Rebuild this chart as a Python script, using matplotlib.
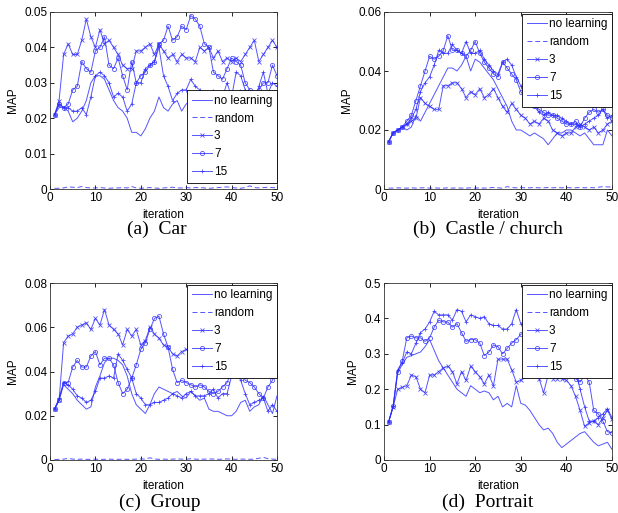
import numpy as np
import matplotlib
matplotlib.use('Agg')
from matplotlib import pyplot as plt
from matplotlib.ticker import FuncFormatter

plt.rcParams['font.family'] = ['Liberation Sans', 'DejaVu Sans']

iterations = np.arange(1, 51)
labels = ['no learning', 'random', '3', '7', '15']

# (a) Car
car_none = [0.021, 0.023, 0.023, 0.022, 0.019, 0.020, 0.022, 0.025, 0.030, 0.032,
            0.032, 0.031, 0.028, 0.025, 0.023, 0.022, 0.020, 0.016, 0.016, 0.015,
            0.017, 0.020, 0.022, 0.026, 0.023, 0.022, 0.024, 0.025, 0.022, 0.024,
            0.025, 0.026, 0.025, 0.024, 0.026, 0.028, 0.026, 0.025, 0.024, 0.026,
            0.027, 0.028, 0.026, 0.025, 0.024, 0.023, 0.025, 0.024, 0.023, 0.022]
car_random = [0.0002, 0.0002, 0.0003, 0.0006, 0.0005, 0.0004, 0.0007, 0.0004, 0.0003, 0.0003,
              0.0004, 0.0003, 0.0002, 0.0003, 0.0003, 0.0004, 0.0003, 0.0007, 0.0003, 0.0002,
              0.0003, 0.0004, 0.0003, 0.0002, 0.0003, 0.0004, 0.0005, 0.0003, 0.0003, 0.0004,
              0.0003, 0.0004, 0.0004, 0.0003, 0.0002, 0.0003, 0.0004, 0.0005, 0.0006, 0.0004,
              0.0003, 0.0002, 0.0004, 0.0009, 0.0004, 0.0003, 0.0004, 0.0005, 0.0004, 0.0003]
car_3 = [0.021, 0.025, 0.038, 0.041, 0.038, 0.038, 0.042, 0.048, 0.043, 0.040,
         0.045, 0.041, 0.042, 0.040, 0.038, 0.035, 0.034, 0.034, 0.039, 0.039,
         0.040, 0.041, 0.038, 0.041, 0.039, 0.037, 0.038, 0.036, 0.038, 0.037,
         0.037, 0.036, 0.040, 0.039, 0.040, 0.037, 0.039, 0.036, 0.037, 0.036,
         0.037, 0.036, 0.038, 0.040, 0.042, 0.036, 0.038, 0.040, 0.042, 0.040]
car_7 = [0.021, 0.024, 0.023, 0.024, 0.028, 0.029, 0.036, 0.034, 0.033, 0.039,
         0.040, 0.043, 0.035, 0.034, 0.037, 0.032, 0.028, 0.036, 0.030, 0.032,
         0.033, 0.035, 0.036, 0.041, 0.042, 0.046, 0.042, 0.043, 0.046, 0.045,
         0.049, 0.048, 0.046, 0.041, 0.040, 0.033, 0.032, 0.031, 0.034, 0.037,
         0.036, 0.035, 0.030, 0.028, 0.027, 0.028, 0.030, 0.030, 0.035, 0.032]
car_15 = [0.021, 0.024, 0.023, 0.023, 0.022, 0.022, 0.023, 0.021, 0.026, 0.032,
          0.033, 0.032, 0.030, 0.026, 0.027, 0.026, 0.022, 0.024, 0.030, 0.030,
          0.034, 0.035, 0.036, 0.040, 0.032, 0.029, 0.025, 0.027, 0.028, 0.028,
          0.031, 0.029, 0.028, 0.027, 0.026, 0.026, 0.025, 0.026, 0.030, 0.026,
          0.033, 0.032, 0.028, 0.025, 0.024, 0.029, 0.033, 0.027, 0.030, 0.029]

# (b) Castle / church
castle_none = [0.016, 0.019, 0.020, 0.021, 0.020, 0.021, 0.025, 0.023, 0.026, 0.029,
               0.032, 0.035, 0.038, 0.041, 0.041, 0.040, 0.042, 0.045, 0.040, 0.044,
               0.043, 0.041, 0.039, 0.037, 0.034, 0.031, 0.028, 0.023, 0.020, 0.020,
               0.019, 0.018, 0.019, 0.018, 0.017, 0.015, 0.017, 0.019, 0.019, 0.020,
               0.020, 0.019, 0.018, 0.019, 0.017, 0.015, 0.015, 0.015, 0.020, 0.018]
castle_random = [0.0003, 0.0003, 0.0004, 0.0003, 0.0003, 0.0004, 0.0003, 0.0004, 0.0004, 0.0003,
                 0.0004, 0.0003, 0.0003, 0.0004, 0.0003, 0.0004, 0.0003, 0.0003, 0.0004, 0.0003,
                 0.0004, 0.0003, 0.0004, 0.0005, 0.0004, 0.0003, 0.0008, 0.0005, 0.0004, 0.0005,
                 0.0004, 0.0004, 0.0005, 0.0004, 0.0004, 0.0005, 0.0004, 0.0005, 0.0004, 0.0005,
                 0.0004, 0.0004, 0.0005, 0.0004, 0.0005, 0.0004, 0.0006, 0.0008, 0.0007, 0.0007]
castle_3 = [0.016, 0.019, 0.020, 0.021, 0.022, 0.023, 0.024, 0.031, 0.029, 0.028,
            0.027, 0.027, 0.035, 0.035, 0.036, 0.036, 0.034, 0.031, 0.033, 0.032,
            0.034, 0.031, 0.032, 0.034, 0.031, 0.028, 0.026, 0.029, 0.027, 0.025,
            0.024, 0.022, 0.023, 0.022, 0.024, 0.023, 0.020, 0.019, 0.018, 0.019,
            0.019, 0.021, 0.022, 0.021, 0.020, 0.021, 0.019, 0.020, 0.022, 0.023]
castle_7 = [0.016, 0.019, 0.020, 0.021, 0.023, 0.025, 0.030, 0.035, 0.040, 0.045,
            0.044, 0.045, 0.047, 0.052, 0.047, 0.047, 0.046, 0.045, 0.047, 0.050,
            0.046, 0.043, 0.041, 0.039, 0.038, 0.043, 0.041, 0.039, 0.037, 0.033,
            0.031, 0.030, 0.028, 0.027, 0.026, 0.025, 0.025, 0.024, 0.023, 0.022,
            0.022, 0.023, 0.021, 0.024, 0.026, 0.027, 0.026, 0.027, 0.025, 0.024]
castle_15 = [0.016, 0.019, 0.020, 0.021, 0.022, 0.024, 0.027, 0.033, 0.036, 0.038,
             0.042, 0.047, 0.046, 0.046, 0.049, 0.047, 0.046, 0.050, 0.046, 0.046,
             0.047, 0.044, 0.042, 0.040, 0.039, 0.043, 0.044, 0.042, 0.038, 0.035,
             0.031, 0.029, 0.028, 0.026, 0.025, 0.026, 0.025, 0.025, 0.024, 0.023,
             0.022, 0.022, 0.021, 0.022, 0.023, 0.024, 0.025, 0.027, 0.024, 0.025]

# (c) Group
group_none = [0.023, 0.027, 0.034, 0.032, 0.030, 0.027, 0.025, 0.023, 0.024, 0.033,
              0.038, 0.044, 0.046, 0.046, 0.045, 0.043, 0.038, 0.030, 0.025, 0.023,
              0.021, 0.025, 0.030, 0.033, 0.032, 0.031, 0.030, 0.031, 0.029, 0.028,
              0.031, 0.029, 0.027, 0.028, 0.023, 0.022, 0.022, 0.021, 0.020, 0.020,
              0.022, 0.026, 0.027, 0.022, 0.024, 0.025, 0.029, 0.025, 0.021, 0.029]
group_random = [0.0002, 0.0003, 0.0004, 0.0007, 0.0004, 0.0003, 0.0004, 0.0003, 0.0003, 0.0004,
                0.0003, 0.0003, 0.0004, 0.0003, 0.0003, 0.0004, 0.0003, 0.0003, 0.0004, 0.0005,
                0.0004, 0.0010, 0.0005, 0.0003, 0.0004, 0.0003, 0.0004, 0.0005, 0.0004, 0.0003,
                0.0006, 0.0004, 0.0003, 0.0004, 0.0005, 0.0004, 0.0003, 0.0004, 0.0005, 0.0004,
                0.0003, 0.0004, 0.0004, 0.0003, 0.0004, 0.0008, 0.0012, 0.0006, 0.0004, 0.0003]
group_3 = [0.023, 0.027, 0.053, 0.056, 0.057, 0.060, 0.061, 0.062, 0.059, 0.064,
           0.061, 0.068, 0.061, 0.059, 0.057, 0.052, 0.059, 0.056, 0.059, 0.052,
           0.054, 0.060, 0.057, 0.055, 0.052, 0.051, 0.048, 0.047, 0.049, 0.050,
           0.048, 0.050, 0.047, 0.048, 0.050, 0.049, 0.048, 0.046, 0.048, 0.045,
           0.047, 0.049, 0.046, 0.044, 0.045, 0.047, 0.048, 0.046, 0.047, 0.045]
group_7 = [0.023, 0.027, 0.035, 0.035, 0.042, 0.045, 0.042, 0.042, 0.047, 0.049,
           0.043, 0.046, 0.046, 0.043, 0.035, 0.030, 0.032, 0.037, 0.043, 0.050,
           0.053, 0.059, 0.064, 0.065, 0.057, 0.051, 0.041, 0.035, 0.036, 0.035,
           0.034, 0.033, 0.034, 0.033, 0.031, 0.030, 0.031, 0.033, 0.035, 0.040,
           0.044, 0.041, 0.036, 0.035, 0.033, 0.030, 0.028, 0.033, 0.036, 0.044]
group_15 = [0.023, 0.028, 0.035, 0.034, 0.032, 0.029, 0.028, 0.026, 0.027, 0.031,
            0.037, 0.037, 0.038, 0.037, 0.048, 0.045, 0.041, 0.037, 0.030, 0.028,
            0.025, 0.025, 0.026, 0.026, 0.027, 0.028, 0.030, 0.029, 0.028, 0.030,
            0.031, 0.029, 0.029, 0.029, 0.030, 0.032, 0.028, 0.030, 0.030, 0.038,
            0.040, 0.036, 0.030, 0.025, 0.026, 0.027, 0.028, 0.022, 0.025, 0.022]

# (d) Portrait
portrait_none = [0.107, 0.150, 0.245, 0.270, 0.290, 0.295, 0.300, 0.305, 0.320, 0.340,
                 0.310, 0.280, 0.260, 0.240, 0.220, 0.200, 0.190, 0.180, 0.210, 0.200,
                 0.190, 0.195, 0.190, 0.170, 0.180, 0.150, 0.160, 0.150, 0.210, 0.160,
                 0.155, 0.140, 0.120, 0.100, 0.085, 0.090, 0.075, 0.050, 0.035, 0.045,
                 0.055, 0.065, 0.075, 0.080, 0.065, 0.050, 0.040, 0.045, 0.050, 0.030]
portrait_random = [0.001] * 50
portrait_3 = [0.107, 0.150, 0.200, 0.205, 0.210, 0.240, 0.235, 0.200, 0.190, 0.240,
              0.240, 0.250, 0.260, 0.265, 0.250, 0.215, 0.250, 0.225, 0.265, 0.250,
              0.235, 0.215, 0.240, 0.210, 0.285, 0.285, 0.285, 0.255, 0.220, 0.225,
              0.240, 0.250, 0.240, 0.230, 0.190, 0.240, 0.230, 0.230, 0.230, 0.225,
              0.210, 0.180, 0.140, 0.095, 0.105, 0.110, 0.100, 0.120, 0.140, 0.115]
portrait_7 = [0.107, 0.152, 0.250, 0.280, 0.345, 0.350, 0.345, 0.345, 0.335, 0.345,
              0.375, 0.395, 0.390, 0.390, 0.375, 0.385, 0.360, 0.335, 0.340, 0.340,
              0.330, 0.295, 0.305, 0.325, 0.320, 0.300, 0.315, 0.330, 0.340, 0.355,
              0.360, 0.350, 0.340, 0.330, 0.320, 0.300, 0.290, 0.280, 0.270, 0.260,
              0.250, 0.230, 0.220, 0.240, 0.220, 0.140, 0.130, 0.110, 0.080, 0.077]
portrait_15 = [0.107, 0.152, 0.255, 0.275, 0.305, 0.300, 0.330, 0.360, 0.370, 0.390,
               0.420, 0.410, 0.410, 0.410, 0.395, 0.425, 0.420, 0.390, 0.410, 0.405,
               0.400, 0.405, 0.385, 0.380, 0.380, 0.370, 0.370, 0.385, 0.425, 0.385,
               0.380, 0.370, 0.360, 0.350, 0.360, 0.340, 0.330, 0.320, 0.300, 0.280,
               0.260, 0.250, 0.200, 0.150, 0.110, 0.110, 0.120, 0.130, 0.145, 0.120]

panels = [
  ('(a)  Car', [car_none, car_random, car_3, car_7, car_15], 0.05, 0.01, 'lower'),
  ('(b)  Castle / church', [castle_none, castle_random, castle_3, castle_7, castle_15], 0.06, 0.02, 'upper'),
  ('(c)  Group', [group_none, group_random, group_3, group_7, group_15], 0.08, 0.02, 'upper'),
  ('(d)  Portrait', [portrait_none, portrait_random, portrait_3, portrait_7, portrait_15], 0.5, 0.1, 'upper'),
]

# axes boxes in pixels: left, top, right, bottom
boxes = [(50, 12, 277, 189), (384, 12, 612, 189), (50, 283, 277, 460), (384, 283, 612, 460)]
caption_pos = [(157, 229), (488, 229), (160, 502), (488, 502)]

styles = [
  dict(linestyle='-', marker=None),
  dict(linestyle='--', marker=None, dashes=(5, 3)),
  dict(linestyle='-', marker='x', markersize=2.5),
  dict(linestyle='-', marker='o', markersize=3, markerfacecolor='none'),
  dict(linestyle='-', marker='+', markersize=3.5),
]

W, H = 618, 513
fig = plt.figure(figsize=(W / 100, H / 100), dpi=100)

for i in range(len(panels)) :
  title, series, ymax, ystep, legpos = panels[i]
  l, t, r, b = boxes[i]
  ax = fig.add_axes([l / W, 1 - b / H, (r - l) / W, (b - t) / H])
  for s in range(len(series)) :
    ax.plot(iterations, series[s], color='#2a2aff', alpha=0.8, linewidth=0.7,
            markeredgewidth=0.6, label=labels[s], **styles[s])
  ax.set_xlim(0, 50)
  ax.set_ylim(0, ymax)
  ax.set_xticks(np.arange(0, 51, 10))
  ax.set_yticks(np.arange(0, ymax + 1e-9, ystep))
  ax.yaxis.set_major_formatter(FuncFormatter(lambda v, p: '%g' % round(v, 4)))
  ax.tick_params(direction='in', top=True, right=True, labelsize=8.5, length=3, width=0.6, pad=2)
  for sp in ax.spines.values() :
    sp.set_linewidth(0.6)
    sp.set_color('#333333')
  ax.set_xlabel('iteration', fontsize=8.5, labelpad=4)
  ax.set_ylabel('MAP', fontsize=8.5, labelpad=4)
  if legpos == 'lower' :
    anchor, loc = (1, 0.034), 'lower right'
  else :
    anchor, loc = (1, 0.99), 'upper right'
  leg = ax.legend(loc=loc, bbox_to_anchor=anchor, borderaxespad=0, fontsize=8.5,
                  handlelength=1.7, handletextpad=0.15, labelspacing=0.5,
                  borderpad=0.4, fancybox=False, framealpha=1, edgecolor='black')
  leg.get_frame().set_linewidth(0.6)
  cx, cy = caption_pos[i]
  fig.text(cx / W, 1 - cy / H, title, ha='center', va='center', fontsize=14,
           family=['Liberation Serif', 'DejaVu Serif'])

fig.savefig('out.png', dpi=100)
